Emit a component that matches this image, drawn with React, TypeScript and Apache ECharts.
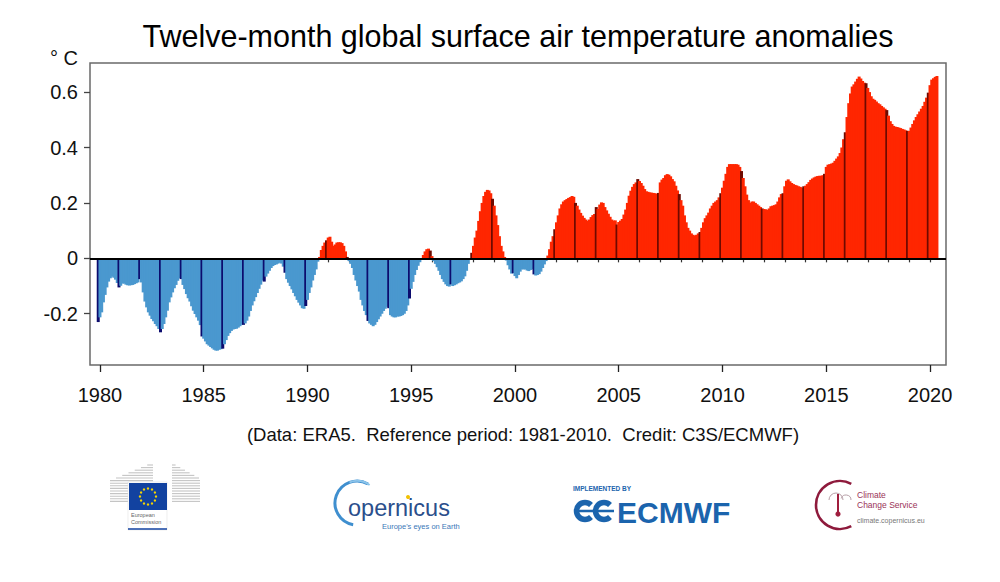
import React, { useEffect, useRef } from 'react';
import * as echarts from 'echarts';

// ---- data: twelve-month running mean anomalies (°C), monthly, Dec 1979 .. May 2020
const startYear = 1979;
const startMonth = 12;
const anom1979 = [-0.23];
const anom1980s = [
  -0.213, -0.195, -0.159, -0.132, -0.105, -0.084, -0.072, -0.066, -0.070, -0.077, -0.089, -0.105,
  -0.099, -0.091, -0.091, -0.095, -0.097, -0.098, -0.097, -0.096, -0.093, -0.090, -0.087, -0.075,
  -0.087, -0.123, -0.156, -0.177, -0.195, -0.207, -0.219, -0.227, -0.237, -0.245, -0.255, -0.267,
  -0.255, -0.237, -0.213, -0.189, -0.159, -0.141, -0.123, -0.108, -0.096, -0.081, -0.072, -0.075,
  -0.096, -0.111, -0.129, -0.144, -0.156, -0.173, -0.189, -0.201, -0.213, -0.225, -0.241, -0.282,
  -0.290, -0.300, -0.310, -0.315, -0.320, -0.325, -0.330, -0.333, -0.333, -0.330, -0.328, -0.326,
  -0.310, -0.295, -0.280, -0.270, -0.262, -0.257, -0.255, -0.254, -0.250, -0.245, -0.240, -0.240,
  -0.235, -0.225, -0.210, -0.190, -0.170, -0.155, -0.140, -0.125, -0.110, -0.095, -0.080, -0.084,
  -0.066, -0.055, -0.045, -0.035, -0.028, -0.024, -0.022, -0.019, -0.016, -0.019, -0.030, -0.052,
  -0.075, -0.088, -0.100, -0.112, -0.125, -0.137, -0.150, -0.160, -0.170, -0.180, -0.182, -0.172,
];
const anom1990s = [
  -0.150, -0.125, -0.105, -0.080, -0.060, -0.040, -0.012, 0.005, 0.030, 0.045, 0.057, 0.065,
  0.075, 0.078, 0.060, 0.045, 0.050, 0.057, 0.058, 0.058, 0.055, 0.045, 0.025, 0.005,
  -0.010, -0.020, -0.035, -0.060, -0.080, -0.100, -0.120, -0.150, -0.170, -0.190, -0.205, -0.226,
  -0.235, -0.240, -0.245, -0.240, -0.230, -0.220, -0.210, -0.200, -0.190, -0.182, -0.175, -0.180,
  -0.205, -0.210, -0.213, -0.213, -0.210, -0.210, -0.208, -0.205, -0.200, -0.190, -0.170, -0.145,
  -0.110, -0.085, -0.060, -0.042, -0.027, -0.014, 0.000, 0.012, 0.025, 0.033, 0.035, 0.028,
  0.008, -0.010, -0.020, -0.032, -0.045, -0.060, -0.075, -0.085, -0.094, -0.100, -0.102, -0.094,
  -0.100, -0.097, -0.094, -0.090, -0.087, -0.083, -0.075, -0.065, -0.045, -0.020, 0.000, 0.020,
  0.045, 0.075, 0.100, 0.135, 0.170, 0.200, 0.225, 0.240, 0.247, 0.245, 0.235, 0.215,
  0.190, 0.155, 0.120, 0.080, 0.045, 0.025, 0.005, -0.008, -0.025, -0.040, -0.055, -0.054,
];
const anom2000s = [
  -0.064, -0.072, -0.060, -0.048, -0.040, -0.040, -0.040, -0.044, -0.046, -0.042, -0.040, -0.058,
  -0.062, -0.060, -0.057, -0.048, -0.035, -0.022, -0.010, 0.010, 0.033, 0.060, 0.080, 0.105,
  0.130, 0.155, 0.180, 0.195, 0.205, 0.210, 0.214, 0.218, 0.221, 0.225, 0.222, 0.200,
  0.190, 0.176, 0.164, 0.154, 0.146, 0.140, 0.135, 0.140, 0.149, 0.156, 0.160, 0.185,
  0.178, 0.194, 0.202, 0.200, 0.185, 0.173, 0.161, 0.150, 0.140, 0.136, 0.137, 0.122,
  0.131, 0.136, 0.142, 0.158, 0.176, 0.200, 0.226, 0.244, 0.258, 0.268, 0.274, 0.286,
  0.279, 0.272, 0.262, 0.250, 0.242, 0.240, 0.238, 0.237, 0.236, 0.235, 0.233, 0.236,
  0.274, 0.284, 0.290, 0.300, 0.304, 0.302, 0.296, 0.286, 0.278, 0.262, 0.245, 0.232,
  0.210, 0.190, 0.155, 0.130, 0.110, 0.100, 0.090, 0.085, 0.082, 0.085, 0.090, 0.095,
  0.110, 0.130, 0.145, 0.155, 0.165, 0.180, 0.190, 0.200, 0.205, 0.210, 0.220, 0.235,
];
const anom2010s = [
  0.255, 0.280, 0.305, 0.330, 0.340, 0.340, 0.340, 0.340, 0.340, 0.338, 0.330, 0.315,
  0.290, 0.260, 0.230, 0.210, 0.200, 0.205, 0.205, 0.200, 0.195, 0.190, 0.185, 0.180,
  0.178, 0.177, 0.175, 0.180, 0.188, 0.190, 0.192, 0.195, 0.205, 0.220, 0.232, 0.235,
  0.260, 0.280, 0.285, 0.278, 0.272, 0.268, 0.265, 0.263, 0.260, 0.258, 0.255, 0.260,
  0.262, 0.268, 0.275, 0.283, 0.288, 0.292, 0.295, 0.297, 0.298, 0.298, 0.300, 0.305,
  0.330, 0.338, 0.340, 0.342, 0.345, 0.352, 0.360, 0.368, 0.380, 0.400, 0.430, 0.455,
  0.510, 0.560, 0.595, 0.620, 0.628, 0.638, 0.648, 0.656, 0.649, 0.640, 0.634, 0.632,
  0.615, 0.600, 0.585, 0.576, 0.572, 0.566, 0.560, 0.556, 0.550, 0.545, 0.540, 0.535,
  0.515, 0.495, 0.485, 0.478, 0.475, 0.474, 0.472, 0.470, 0.467, 0.465, 0.462, 0.460,
  0.460, 0.472, 0.485, 0.498, 0.510, 0.520, 0.530, 0.540, 0.550, 0.565, 0.580, 0.598,
];
const anom2020 = [0.625, 0.645, 0.650, 0.655, 0.658];

const minorTickYears = [
  1980, 1981, 1982, 1983, 1984, 1985, 1986, 1987, 1988, 1989, 1990, 1991, 1992, 1993,
  1994, 1995, 1996, 1997, 1998, 1999, 2000, 2001, 2002, 2003, 2004, 2005, 2006, 2007,
  2008, 2009, 2010, 2011, 2012, 2013, 2014, 2015, 2016, 2017, 2018, 2019, 2020,
];
const labelYears = [1980, 1985, 1990, 1995, 2000, 2005, 2010, 2015, 2020];
const yTicks = [-0.2, 0, 0.2, 0.4, 0.6];

const titleText = 'Twelve-month global surface air temperature anomalies';
const unitText = '° C';
const creditText = '(Data: ERA5.  Reference period: 1981-2010.  Credit: C3S/ECMWF)';

// ---- styles
const FONT = "'Liberation Sans', Arial, Helvetica, sans-serif";
const RED = '#ff2600';
const DARK_RED = '#6e0a00';
const BLUE = '#4a98cf';
const NAVY = '#0c0c6e';

function buildPoints() {
  const all = [...anom1979, ...anom1980s, ...anom1990s, ...anom2000s, ...anom2010s, ...anom2020];
  return all.map((v, i) => {
    const monthIndex = startMonth - 1 + i;
    const t = startYear + monthIndex / 12;
    const isDec = monthIndex % 12 === 11;
    const color = v >= 0 ? (isDec ? DARK_RED : RED) : isDec ? NAVY : BLUE;
    return { value: [t, v], itemStyle: { color } };
  });
}

function logoElements() {
  const els: any[] = [];
  // European Commission: building stripes
  for (let y = 465; y <= 503; y += 2.6) {
    const xs = Math.max(110, 152 - (y - 463) * 2.4);
    els.push({ type: 'line', silent: true, shape: { x1: xs, y1: y, x2: 153, y2: y }, style: { stroke: '#c4c4c4', lineWidth: 1.1 } });
    const xe = Math.min(200, 172 + (y - 463) * 1.8);
    els.push({ type: 'line', silent: true, shape: { x1: 172, y1: y, x2: xe, y2: y }, style: { stroke: '#c4c4c4', lineWidth: 1.1 } });
  }
  els.push({ type: 'rect', silent: true, shape: { x: 128, y: 482, width: 39, height: 48 }, style: { fill: '#fff', stroke: '#e2e2e2', lineWidth: 0.6 } });
  els.push({ type: 'rect', silent: true, shape: { x: 129, y: 483, width: 38, height: 27 }, style: { fill: '#1242a0' } });
  for (let k = 0; k < 12; k++) {
    const a = (k / 12) * Math.PI * 2;
    els.push({ type: 'circle', silent: true, shape: { cx: 148 + 8 * Math.cos(a), cy: 496.5 + 8 * Math.sin(a), r: 1.2 }, style: { fill: '#f5d400' } });
  }
  els.push({ type: 'text', silent: true, x: 131, y: 515, style: { text: 'European', fontSize: 5.5, fontFamily: FONT, fill: '#666', textVerticalAlign: 'middle' } });
  els.push({ type: 'text', silent: true, x: 131, y: 522, style: { text: 'Commission', fontSize: 5.5, fontFamily: FONT, fill: '#666', textVerticalAlign: 'middle' } });
  els.push({ type: 'line', silent: true, shape: { x1: 128, y1: 529, x2: 167, y2: 529 }, style: { stroke: '#1242a0', lineWidth: 1.5 } });

  // Copernicus
  els.push({ type: 'arc', silent: true, shape: { cx: 357, cy: 503, r: 22, startAngle: (100 * Math.PI) / 180, endAngle: (300 * Math.PI) / 180, clockwise: true }, style: { stroke: '#3f8fcf', lineWidth: 3, fill: 'none' } });
  els.push({ type: 'arc', silent: true, shape: { cx: 357, cy: 503, r: 22, startAngle: (250 * Math.PI) / 180, endAngle: (305 * Math.PI) / 180, clockwise: true }, style: { stroke: '#8cc4ea', lineWidth: 2, fill: 'none' } });
  els.push({ type: 'text', silent: true, x: 348, y: 508, style: { text: 'opernicus', fontSize: 23.5, fontFamily: FONT, fill: '#2b4f8c', textVerticalAlign: 'middle' } });
  els.push({ type: 'circle', silent: true, shape: { cx: 408, cy: 497, r: 2 }, style: { fill: '#f2c200' } });
  els.push({ type: 'text', silent: true, x: 382, y: 526, style: { text: "Europe's eyes on Earth", fontSize: 7.5, fontFamily: FONT, fill: '#3a78b8', textVerticalAlign: 'middle' } });

  // ECMWF
  els.push({ type: 'text', silent: true, x: 573, y: 488, style: { text: 'IMPLEMENTED BY', fontSize: 6.5, fontWeight: 'bold', fontFamily: FONT, fill: '#1b64ad', textVerticalAlign: 'middle' } });
  els.push({ type: 'arc', silent: true, shape: { cx: 585, cy: 511, r: 8.5, startAngle: (45 * Math.PI) / 180, endAngle: (315 * Math.PI) / 180, clockwise: true }, style: { stroke: '#1b64ad', lineWidth: 5.5, fill: 'none' } });
  els.push({ type: 'arc', silent: true, shape: { cx: 604, cy: 511, r: 8.5, startAngle: (45 * Math.PI) / 180, endAngle: (315 * Math.PI) / 180, clockwise: true }, style: { stroke: '#1b64ad', lineWidth: 5.5, fill: 'none' } });
  els.push({ type: 'line', silent: true, shape: { x1: 574, y1: 511, x2: 614, y2: 511 }, style: { stroke: '#1b64ad', lineWidth: 2.5 } });
  els.push({ type: 'text', silent: true, x: 617, y: 512, style: { text: 'ECMWF', fontSize: 30, fontWeight: 'bold', fontFamily: FONT, fill: '#1b64ad', textVerticalAlign: 'middle' } });

  // Climate Change Service
  els.push({ type: 'arc', silent: true, shape: { cx: 840, cy: 505, r: 24, startAngle: (62 * Math.PI) / 180, endAngle: (298 * Math.PI) / 180, clockwise: true }, style: { stroke: '#8e1a3c', lineWidth: 2.6, fill: 'none' } });
  els.push({ type: 'arc', silent: true, shape: { cx: 836, cy: 500, r: 7, startAngle: Math.PI, endAngle: 2 * Math.PI, clockwise: true }, style: { stroke: '#b8a0a8', lineWidth: 1, fill: 'none' } });
  els.push({ type: 'arc', silent: true, shape: { cx: 846, cy: 500, r: 5, startAngle: Math.PI * 1.1, endAngle: 2 * Math.PI, clockwise: true }, style: { stroke: '#b8a0a8', lineWidth: 1, fill: 'none' } });
  els.push({ type: 'line', silent: true, shape: { x1: 838, y1: 494, x2: 838, y2: 512 }, style: { stroke: '#a01e3e', lineWidth: 2 } });
  els.push({ type: 'circle', silent: true, shape: { cx: 838, cy: 514, r: 2.6 }, style: { fill: '#a01e3e' } });
  els.push({ type: 'text', silent: true, x: 857, y: 495, style: { text: 'Climate', fontSize: 8.5, fontFamily: FONT, fill: '#9a3358', textVerticalAlign: 'middle' } });
  els.push({ type: 'text', silent: true, x: 857, y: 505, style: { text: 'Change Service', fontSize: 8.5, fontFamily: FONT, fill: '#9a3358', textVerticalAlign: 'middle' } });
  els.push({ type: 'text', silent: true, x: 857, y: 520, style: { text: 'climate.copernicus.eu', fontSize: 7, fontFamily: FONT, fill: '#777', textVerticalAlign: 'middle' } });
  return els;
}

export default function App() {
  const ref = useRef<HTMLDivElement>(null);
  useEffect(() => {
    if (!ref.current) return;
    const chart = echarts.init(ref.current, null, { renderer: 'svg' });
    const xMin = 1979.52;
    const xMax = 2020.77;
    const option: any = {
      animation: false,
      backgroundColor: '#fff',
      grid: {
        left: 90, top: 63, width: 856, height: 302,
        show: true, borderColor: '#6a6a6a', borderWidth: 1.5, backgroundColor: 'transparent',
      },
      xAxis: [
        {
          type: 'value', min: xMin, max: xMax, position: 'bottom',
          axisLine: { show: false }, splitLine: { show: false },
          axisTick: { show: true, customValues: minorTickYears, length: 4, lineStyle: { color: '#333', width: 1.2 } },
          axisLabel: { show: false },
        },
        {
          type: 'value', min: xMin, max: xMax, position: 'bottom',
          axisLine: { show: false }, splitLine: { show: false },
          axisTick: { show: true, customValues: labelYears, length: 7, lineStyle: { color: '#222', width: 1.3 } },
          axisLabel: {
            show: true, customValues: labelYears, fontSize: 20, fontFamily: FONT, color: '#111', margin: 20,
            formatter: (v: number) => String(Math.round(v)),
          },
        },
      ],
      yAxis: {
        type: 'value', min: -0.385, max: 0.705,
        axisLine: { show: false }, splitLine: { show: false },
        axisTick: { show: true, customValues: yTicks, length: 6, lineStyle: { color: '#444', width: 1.3 } },
        axisLabel: {
          show: true, customValues: yTicks, fontSize: 20, fontFamily: FONT, color: '#111', margin: 12,
          formatter: (v: number) => (Math.abs(v) < 1e-9 ? '0' : v.toFixed(1)),
        },
      },
      series: [
        {
          type: 'bar', xAxisIndex: 0, yAxisIndex: 0, barWidth: 3,
          data: buildPoints(),
          markLine: {
            silent: true, symbol: ['none', 'none'], label: { show: false },
            lineStyle: { color: '#000', width: 2, type: 'solid' },
            data: [{ yAxis: 0 }],
          },
        },
      ],
      graphic: {
        elements: [
          { type: 'text', silent: true, x: 518, y: 36, style: { text: titleText, fontSize: 30.5, fontFamily: FONT, fill: '#000', textAlign: 'center', textVerticalAlign: 'middle' } },
          { type: 'text', silent: true, x: 50, y: 58, style: { text: unitText, fontSize: 20, fontFamily: FONT, fill: '#111', textVerticalAlign: 'middle' } },
          { type: 'text', silent: true, x: 523, y: 434, style: { text: creditText, fontSize: 18.5, fontFamily: FONT, fill: '#111', textAlign: 'center', textVerticalAlign: 'middle' } },
          ...logoElements(),
        ],
      },
    };
    chart.setOption(option);
    return () => chart.dispose();
  }, []);
  return <div ref={ref} style={{ position: 'fixed', left: 0, top: 0, width: 1000, height: 582, background: '#fff' }} />;
}
